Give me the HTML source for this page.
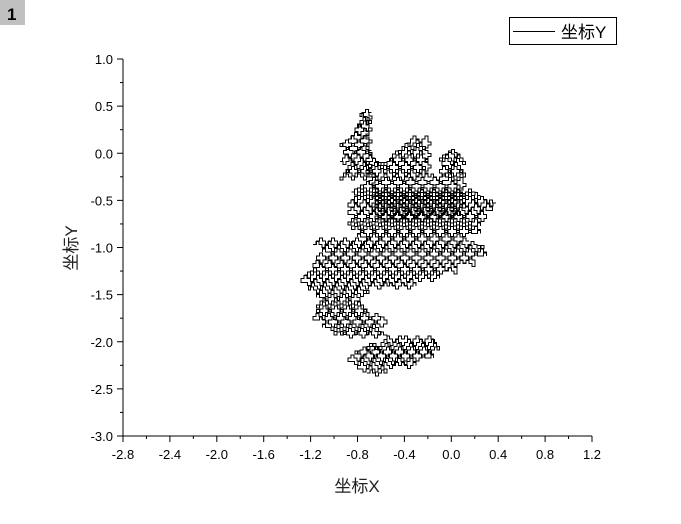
<!DOCTYPE html>
<html><head><meta charset="utf-8"><style>
body{margin:0;background:#fff;width:681px;height:519px;overflow:hidden;font-family:"Liberation Sans","Noto Sans CJK SC",sans-serif}
</style></head><body>
<svg id="chart" width="681" height="519" viewBox="0 0 681 519">
<rect x="0" y="0" width="25" height="25" fill="#c0c0c0"/>
<text x="7" y="20" font-size="17" font-weight="bold" fill="#000">1</text>
<g id="axes"></g>
<path id="walk" fill="none" stroke="#000" stroke-width="1" shape-rendering="crispEdges"/>
<g>
<rect x="509.5" y="17.5" width="107" height="27" fill="#fff" stroke="#000"/>
<line x1="513" y1="31.5" x2="555" y2="31.5" stroke="#000"/>
<text x="561" y="38" font-size="17">坐标Y</text>
</g>
<text x="357" y="492" font-size="17" text-anchor="middle" fill="#222">坐标X</text>
<text x="0" y="0" font-size="17" text-anchor="middle" fill="#222" transform="translate(77,248) rotate(-90)">坐标Y</text>
</svg>
<script>
const xTicks=[-2.8,-2.4,-2.0,-1.6,-1.2,-0.8,-0.4,0.0,0.4,0.8,1.2];
const xTickLabels=["-2.8","-2.4","-2.0","-1.6","-1.2","-0.8","-0.4","0.0","0.4","0.8","1.2"];
const yTicks=[1.0,0.5,0.0,-0.5,-1.0,-1.5,-2.0,-2.5,-3.0];
const yTickLabels=["1.0","0.5","0.0","-0.5","-1.0","-1.5","-2.0","-2.5","-3.0"];
const walkX=[-0.72,-0.62,-0.55,-0.78,-0.80,-0.45,-0.30,-0.85,-0.88,-0.20,-0.15,-0.82,-0.78,-0.12,-0.10,-0.72,-0.60,-0.12,-0.15,-0.40,
-0.55,-0.92,-1.00,-0.60,-0.62,-1.05,-1.10,-0.58,-0.55,-1.15,-1.18,-0.60,-0.70,-1.15,-1.12,-0.72,-0.75,-1.15,-1.12,-0.80,-0.78,-1.10,-1.15,-0.70,-0.75,-1.20,
-1.22,-0.55,-0.30,-1.25,-1.28,-0.15,-0.10,-1.25,-1.20,-0.05,0.05,-1.15,-1.18,0.10,0.20,-1.12,-1.15,0.25,0.30,-1.05,-1.10,0.28,0.22,-1.18,-1.15,0.15,
0.10,-0.75,-0.80,0.20,0.25,-0.82,-0.85,0.20,0.25,-0.88,-0.85,0.28,0.30,-0.85,-0.88,0.32,0.35,-0.85,-0.88,0.38,0.30,-0.85,-0.80,0.25,0.20,-0.85,-0.80,0.10,0.05,-0.75,-0.70,-0.05,
0.10,-0.65,-0.65,0.12,0.05,-0.62,-0.60,0.10,0.12,-0.65,-0.62,0.05,0.08,-0.60,-0.55,0.05,
-0.65,-0.95,-0.92,-0.62,-0.60,-0.90,-0.88,-0.58,-0.62,-0.95,-0.93,-0.65,-0.68,-0.90,-0.92,-0.68,-0.70,-0.95,-0.93,-0.72,-0.70,-0.88,-0.85,-0.72,-0.70,-0.82,-0.82,-0.68,-0.70,-0.80,-0.78,-0.68,-0.72,-0.78,-0.76,-0.68,
-0.70,-0.50,-0.25,-0.20,-0.55,-0.58,-0.22,-0.25,-0.60,-0.55,-0.20,-0.22,-0.52,-0.50,-0.22,-0.25,-0.45,-0.42,-0.22,-0.25,-0.38,-0.35,-0.20,
-0.20,-0.05,0.10,0.12,-0.08,-0.10,0.10,0.08,-0.05,-0.08,0.12,0.10,-0.10,-0.05,0.08,0.05,-0.02];
const walkY=[-2.33,-2.33,-2.29,-2.29,-2.25,-2.25,-2.21,-2.21,-2.17,-2.17,-2.13,-2.13,-2.09,-2.09,-2.05,-2.05,-2.01,-2.01,-1.97,-1.97,
-1.93,-1.93,-1.89,-1.89,-1.85,-1.85,-1.81,-1.81,-1.77,-1.77,-1.73,-1.73,-1.69,-1.69,-1.65,-1.65,-1.61,-1.61,-1.57,-1.57,-1.53,-1.53,-1.49,-1.49,-1.45,-1.45,
-1.41,-1.41,-1.37,-1.37,-1.33,-1.33,-1.29,-1.29,-1.25,-1.25,-1.21,-1.21,-1.17,-1.17,-1.13,-1.13,-1.09,-1.09,-1.05,-1.05,-1.01,-1.01,-0.97,-0.97,-0.93,-0.93,
-0.89,-0.89,-0.85,-0.85,-0.81,-0.81,-0.77,-0.77,-0.73,-0.73,-0.69,-0.69,-0.65,-0.65,-0.61,-0.61,-0.57,-0.57,-0.53,-0.53,-0.49,-0.49,-0.45,-0.45,-0.41,-0.41,-0.37,-0.37,-0.33,-0.33,-0.29,-0.29,
-0.42,-0.42,-0.46,-0.46,-0.50,-0.50,-0.54,-0.54,-0.58,-0.58,-0.62,-0.62,-0.66,-0.66,-0.70,-0.70,
-0.25,-0.25,-0.21,-0.21,-0.17,-0.17,-0.13,-0.13,-0.09,-0.09,-0.05,-0.05,-0.01,-0.01,0.03,0.03,0.07,0.07,0.11,0.11,0.15,0.15,0.19,0.19,0.23,0.23,0.27,0.27,0.31,0.31,0.35,0.35,0.39,0.39,0.43,0.43,
-0.25,-0.25,-0.25,-0.21,-0.21,-0.17,-0.17,-0.13,-0.13,-0.09,-0.09,-0.05,-0.05,-0.01,-0.01,0.03,0.03,0.07,0.07,0.11,0.11,0.15,0.15,
-0.25,-0.25,-0.25,-0.21,-0.21,-0.17,-0.17,-0.13,-0.13,-0.09,-0.09,-0.05,-0.05,-0.01,-0.01,0.01,0.01];
const X0=123,X1=592,Y0=436,Y1=59;
const sx=v=>X0+(v+2.8)/4*(X1-X0);
const sy=v=>Y0-(v+3)/4*(Y0-Y1);
const NS="http://www.w3.org/2000/svg";
const axes=document.getElementById('axes');
function mk(tag,attrs){const e=document.createElementNS(NS,tag);for(const k in attrs)e.setAttribute(k,attrs[k]);axes.appendChild(e);return e;}
let e=mk('line',{x1:X0,y1:Y0,x2:X1,y2:Y0,stroke:'#000'});


e=mk('line',{x1:X0,y1:Y0,x2:X0,y2:Y1,stroke:'#000'});


xTicks.forEach((v,i)=>{
  const x=sx(v);
  let t=mk('line',{x1:x,y1:Y0,x2:x,y2:Y0+6,stroke:'#000'});
  
  
  if(i<xTicks.length-1){const m=mk('line',{x1:sx(v+0.2),y1:Y0,x2:sx(v+0.2),y2:Y0+3,stroke:'#000'});
  
  }
  const l=mk('text',{x:x,y:Y0+23,'font-size':13,'text-anchor':'middle'});
  l.textContent=xTickLabels[i];
  
  
});
yTicks.forEach((v,i)=>{
  const y=sy(v);
  let t=mk('line',{x1:X0-6,y1:y,x2:X0,y2:y,stroke:'#000'});
  
  
  if(i<yTicks.length-1){const m=mk('line',{x1:X0-3,y1:sy(v-0.25),x2:X0,y2:sy(v-0.25),stroke:'#000'});
  
  }
  const l=mk('text',{x:X0-10,y:y+5,'font-size':13,'text-anchor':'end'});
  l.textContent=yTickLabels[i];
  
  
});
// staircase rendering: each move drawn as small lattice steps
function hMove(xa,xb,y){let s='';const n=Math.max(1,Math.round(Math.abs(xb-xa)/3));let yc=y;
  for(let k=1;k<=n;k++){const x=xa+(xb-xa)*k/n;s+=' L'+x.toFixed(1)+' '+yc.toFixed(1);
    const ny=y+((k%4===1)?-3:(k%4===3)?3:0);if(k<n){s+=' L'+x.toFixed(1)+' '+ny.toFixed(1);yc=ny;}}
  if(yc!==y)s+=' L'+xb.toFixed(1)+' '+y.toFixed(1);return s;}
function vMove(x,ya,yb){let s='';const n=Math.max(1,Math.round(Math.abs(yb-ya)/3));let xc=x;
  for(let k=1;k<=n;k++){const y=ya+(yb-ya)*k/n;s+=' L'+xc.toFixed(1)+' '+y.toFixed(1);
    const nx=x+((k%4===1)?3:(k%4===3)?-3:0);if(k<n){s+=' L'+nx.toFixed(1)+' '+y.toFixed(1);xc=nx;}}
  if(xc!==x)s+=' L'+x.toFixed(1)+' '+yb.toFixed(1);return s;}
const n=Math.min(walkX.length,walkY.length);
let d='M'+sx(walkX[0]).toFixed(1)+' '+sy(walkY[0]).toFixed(1);
for(let i=1;i<n;i++){
  const xa=sx(walkX[i-1]),xb=sx(walkX[i]),ya=sy(walkY[i-1]),yb=sy(walkY[i]);
  d+=hMove(xa,xb,ya);
  if(Math.abs(yb-ya)>0.1)d+=vMove(xb,ya,yb);
}
document.getElementById('walk').setAttribute('d',d);
</script>
</body></html>
